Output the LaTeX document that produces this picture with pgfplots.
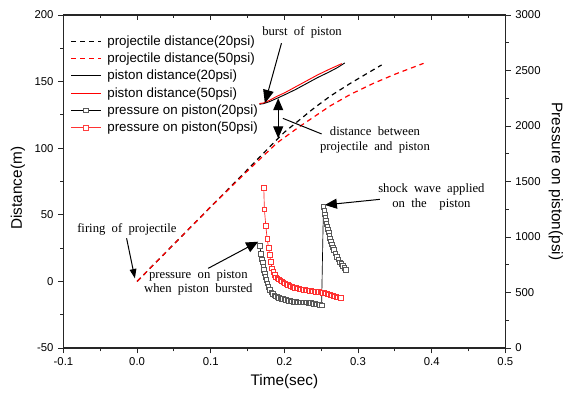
\documentclass[border=0pt]{standalone}
\usepackage{fontspec}
\setmainfont{Liberation Sans}
\newfontfamily\serifa{Liberation Serif}
\usepackage{pgfplots}
\pgfplotsset{compat=1.18}
\usetikzlibrary{arrows.meta}
\newcommand{\ann}{\serifa\fontsize{9.5}{11}\selectfont}
\begin{document}
\begin{tikzpicture}
\path[use as bounding box] (-47.6pt,-40.5pt) rectangle (376.9pt,261pt);
\pgfplotsset{
  common/.style={
    at={(0,0)}, anchor=south west, scale only axis,
    width=331.4pt, height=249.75pt,
    xmin=-0.1, xmax=0.5,
    axis line style={line width=0.8pt, black!85},
    every tick/.style={line width=0.7pt, black!85},
    major tick length=4pt, minor tick length=2.5pt,
    /pgf/number format/assume math mode=true,
    /pgf/number format/set thousands separator={},
    tick label style={font=\fontsize{8.5}{10}\selectfont},
    label style={font=\fontsize{11.5}{13}\selectfont},
  }
}
\begin{axis}[common,
  ymin=-50, ymax=200,
  xtick={-0.1,0,0.1,0.2,0.3,0.4,0.5}, minor x tick num=1,
  ytick={-50,0,50,100,150,200}, minor y tick num=1,
  xtick pos=bottom, ytick pos=left, tick align=outside,
  xticklabel style={/pgf/number format/.cd, fixed, fixed zerofill, precision=1},
  xlabel={Time(sec)}, ylabel={Distance(m)},
  every axis x label/.append style={at={(axis description cs:0.5,-0.1)}, anchor=center},
  every axis y label/.append style={at={(axis description cs:-0.103,0.48)}, anchor=center},
  legend style={at={(rel axis cs:0.016,0.945)}, anchor=north west, draw=none, fill=none,
    font=\fontsize{10}{12}\selectfont, inner sep=0pt, row sep=1.2pt,
    nodes={inner sep=1.5pt}},
  legend cell align=left,
  every even column/.append style={column sep=0pt},
  legend image code/.code={\draw[mark repeat=2,mark phase=2,#1] plot coordinates {(0pt,0pt) (11pt,0pt) (22pt,0pt)};},
  legend style={/tikz/every odd column/.append style={column sep=3pt}},
]
\addplot[black, line width=0.9pt, dash pattern=on 3.75pt off 3pt] coordinates {
(0,0) (0.05,28) (0.10,56) (0.15,84) (0.18,101) (0.20,112) (0.22,121) (0.24,130)
(0.262,139) (0.289,148.5) (0.315,157) (0.332,162.5)};
\addlegendentry{projectile distance(20psi)}
\addplot[red, line width=0.9pt, dash pattern=on 3.75pt off 3pt] coordinates {
(0,0) (0.05,28) (0.10,56) (0.15,83) (0.19,104) (0.22,116) (0.262,131.7) (0.29,140.5)
(0.321,148.7) (0.35,155.5) (0.389,163.7)};
\addlegendentry{projectile distance(50psi)}
\addplot[black, line width=0.7pt] coordinates {
(0.166,133) (0.172,133.5) (0.18,135) (0.19,137.5) (0.20,140) (0.215,144) (0.23,148.5)
(0.245,153) (0.26,157) (0.272,160.5) (0.282,164)};
\addlegendentry{piston distance(20psi)}
\addplot[red, line width=0.7pt] coordinates {
(0.166,133.5) (0.172,134) (0.18,136) (0.19,139) (0.20,141.5) (0.215,146) (0.23,150.5)
(0.245,155) (0.26,159) (0.278,163.5)};
\addlegendentry{piston distance(50psi)}
\addlegendimage{black, line width=0.5pt, mark=square*, mark size=1.7pt, mark options={draw=black!65, fill=white, line width=0.5pt}}
\addlegendentry{pressure on piston(20psi)}
\addlegendimage{red!80, line width=0.5pt, mark=square*, mark size=1.7pt, mark options={draw=red!75, fill=white, line width=0.5pt}}
\addlegendentry{pressure on piston(50psi)}
% annotations
\draw[line width=0.75pt, -{Triangle[length=10pt,width=8pt]}] (axis cs:0.196,178.8) -- (axis cs:0.1735,133.7);
\node[font=\ann] at (axis cs:0.224,187.2) {burst\hspace{0.5em}of\hspace{0.5em}piston};
\draw[line width=0.75pt, {Triangle[length=9pt,width=7.5pt]}-{Triangle[length=9pt,width=7.5pt]}] (axis cs:0.1916,137.5) -- (axis cs:0.1916,107.4);
\draw[line width=0.75pt] (axis cs:0.198,122.4) -- (axis cs:0.2505,110.7);
\node[font=\ann, align=center] at (axis cs:0.323,106) {distance\hspace{0.5em}between\\projectile\hspace{0.5em}and\hspace{0.5em}piston};
\node[font=\ann] at (axis cs:-0.0139,39.1) {firing\hspace{0.5em}of\hspace{0.5em}projectile};
\draw[line width=0.75pt, -{Triangle[length=7pt,width=5pt]}] (axis cs:-0.0143,32.4) -- (axis cs:-0.003,2.3);
\node[font=\ann, align=center] at (axis cs:0.0832,-0.9) {pressure\hspace{0.5em}on\hspace{0.5em}piston\\when\hspace{0.5em}piston\hspace{0.5em}bursted};
\draw[line width=0.75pt, -{Triangle[length=9pt,width=8pt]}] (axis cs:0.0965,9.8) -- (axis cs:0.1644,29.8);
\node[font=\ann, align=center] at (axis cs:0.3996,63.2) {shock\hspace{0.5em}wave\hspace{0.5em}applied\\on\hspace{0.5em}the\hspace{1em}piston};
\draw[line width=0.75pt, -{Triangle[length=9pt,width=7.5pt]}] (axis cs:0.3297,61.6) -- (axis cs:0.255,57.4);
\end{axis}

\begin{axis}[common,
  ymin=0, ymax=3000,
  axis y line*=right, axis x line=none, tick align=outside,
  ytick={0,500,1000,1500,2000,2500,3000}, minor y tick num=1,
  ylabel={Pressure on piston(psi)},
  every axis y label/.append style={at={(axis description cs:1.1145,0.5)}, anchor=center, rotate=180},
  clip=false,
]
\addplot[red!85, line width=0.5pt, mark=square*, mark size=1.7pt, mark options={draw=red!80, fill=white, line width=0.5pt}] coordinates {
(0.1720,1444) (0.1728,1250) (0.1748,1099) (0.1766,982) (0.1785,904) (0.1800,838)
(0.1815,778) (0.1832,718) (0.1850,685) (0.1868,660) (0.1886,636) (0.1905,627)
(0.1925,617) (0.1945,608) (0.1965,600) (0.1985,590) (0.2005,582) (0.2025,575)
(0.2045,569) (0.2065,563) (0.2085,557) (0.2105,552) (0.2125,547) (0.2145,543)
(0.2165,540) (0.2185,536) (0.2205,533) (0.2225,530) (0.2245,527) (0.2265,524)
(0.2285,522) (0.2305,520) (0.2325,518) (0.2345,516) (0.2365,514) (0.2385,512)
(0.2405,510) (0.2425,508) (0.2445,506) (0.2465,504) (0.2485,502) (0.2505,500)
(0.2525,498) (0.2545,496) (0.2565,493) (0.2585,489) (0.2605,485) (0.2625,480)
(0.2645,475) (0.2665,469) (0.2685,464) (0.2705,460) (0.2725,457) (0.2745,455)
(0.2763,453)};
\addplot[black, line width=0.5pt, mark=square*, mark size=1.7pt, mark options={draw=black!65, fill=white, line width=0.5pt}] coordinates {
(0.1667,922) (0.1681,847) (0.1695,800) (0.1704,772) (0.1713,735) (0.1722,703)
(0.1731,672) (0.1739,642) (0.1752,612) (0.1766,583) (0.1784,552) (0.1803,523)
(0.1822,503) (0.1842,488) (0.1862,476) (0.1882,466) (0.1902,459) (0.1922,453)
(0.1942,448) (0.1962,444) (0.1982,441) (0.2002,437) (0.2022,433) (0.2042,430)
(0.2062,426) (0.2082,423) (0.2102,420) (0.2122,417) (0.2142,415) (0.2162,414)
(0.2182,413) (0.2202,412) (0.2222,412) (0.2242,411) (0.2262,411) (0.2282,411)
(0.2302,410) (0.2322,409) (0.2342,407) (0.2362,405) (0.2382,403) (0.2402,400)
(0.2422,398) (0.2442,395) (0.2462,392) (0.2482,389) (0.2505,385)
(0.2530,1273) (0.2540,1235) (0.2550,1204) (0.2557,1174) (0.2564,1144) (0.2572,1118)
(0.2581,1093) (0.2590,1067) (0.2600,1042) (0.2609,1015) (0.2618,988) (0.2631,961)
(0.2645,934) (0.2658,908) (0.2672,883) (0.2690,853) (0.2709,823) (0.2731,797)
(0.2754,772) (0.2772,757) (0.2790,742) (0.2812,723) (0.2835,705)};
\end{axis}

\begin{axis}[common,
  ymin=0, ymax=1,
  axis x line*=top, axis y line=none, tick align=inside,
  xtick={-0.1,0,0.1,0.2,0.3,0.4,0.5}, minor x tick num=1,
  xticklabels={},
]
\end{axis}
\end{tikzpicture}
\end{document}
